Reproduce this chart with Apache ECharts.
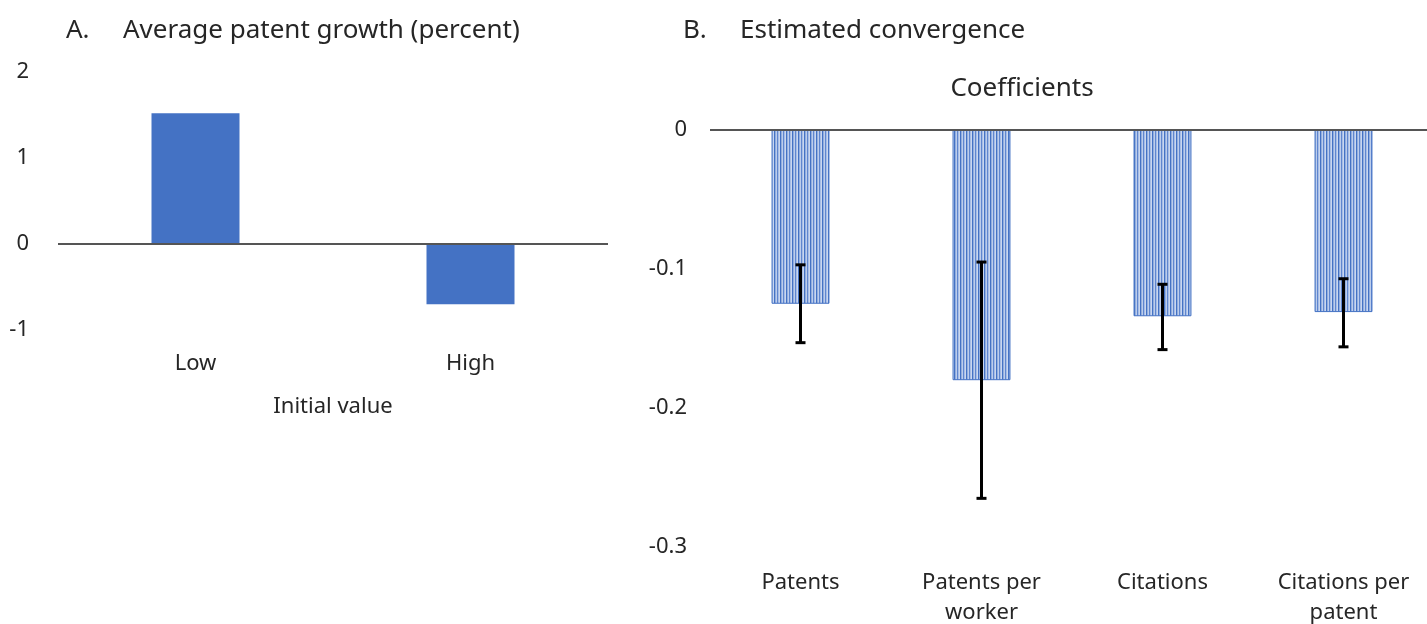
<!DOCTYPE html>
<html>
<head>
<meta charset="utf-8">
<script src="https://cdn.jsdelivr.net/npm/echarts@6/dist/echarts.min.js"></script>
<style>
  html, body { margin: 0; padding: 0; background: #fff; }
  #chart { width: 1427px; height: 624px; }
</style>
</head>
<body>
<div id="chart"></div>
<script>
// Panel A: average patent growth by initial value
const growthCategories = ['Low', 'High'];
const growthValues = [1.52, -0.70];
const growthTicks = { min: -1, max: 2, interval: 1 };

// Panel B: estimated convergence coefficients with confidence bands
const coefCategories = ['Patents', 'Patents per\nworker', 'Citations', 'Citations per\npatent'];
const coefValues = [-0.125, -0.18, -0.134, -0.131];
const coefLow = [-0.153, -0.265, -0.158, -0.156];
const coefHigh = [-0.097, -0.095, -0.111, -0.107];
const coefTicks = { min: -0.3, max: 0, interval: 0.1 };

const FONT = '"Noto Sans", "DejaVu Sans", sans-serif';
const TEXT = '#262626';
const BLUE = '#4472C4';

// vertical stripe fill for the coefficient bars
function stripePattern() {
  const c = document.createElement('canvas');
  const shades = ['#4472c4', '#93aedd', '#bccdec', '#5f86cf', '#a7bde5', '#c9d7f0'];
  c.width = shades.length;
  c.height = 8;
  const ctx = c.getContext('2d');
  shades.forEach((s, i) => { ctx.fillStyle = s; ctx.fillRect(i, 0, 1, 8); });
  return c;
}

const chart = echarts.init(document.getElementById('chart'), null, { renderer: 'canvas' });

const zeroLine = {
  silent: true,
  symbol: 'none',
  label: { show: false },
  lineStyle: { color: '#555', width: 2, type: 'solid' },
  data: [{ yAxis: 0 }]
};

const tickFmt = v => {
  const r = Math.round(v * 10) / 10;
  return r === 0 ? '0' : String(r);
};

const titleStyle = { fontFamily: FONT, fontSize: 26, fontWeight: 'normal', color: TEXT };

chart.setOption({
  animation: false,
  textStyle: { fontFamily: FONT, color: TEXT },
  title: [
    { text: 'A.', left: 66, top: 18, padding: 0, textStyle: titleStyle },
    { text: 'Average patent growth (percent)', left: 123, top: 18, padding: 0, textStyle: titleStyle },
    { text: 'B.', left: 683, top: 18, padding: 0, textStyle: titleStyle },
    { text: 'Estimated convergence', left: 740, top: 18, padding: 0, textStyle: titleStyle },
    { text: 'Coefficients', left: 1022, textAlign: 'center', top: 76, padding: 0, textStyle: titleStyle }
  ],
  grid: [
    { left: 58, top: 72, width: 550, height: 258, outerBoundsMode: 'none', containLabel: false },
    { left: 710, top: 130, width: 724, height: 417, outerBoundsMode: 'none', containLabel: false }
  ],
  xAxis: [
    {
      type: 'category', gridIndex: 0, data: growthCategories,
      axisLine: { show: false, onZero: false }, axisTick: { show: false },
      axisLabel: { fontSize: 22, color: TEXT, margin: 23, fontFamily: FONT },
      name: 'Initial value', nameLocation: 'middle', nameGap: 66,
      nameTextStyle: { fontSize: 22, color: TEXT, fontFamily: FONT }
    },
    {
      type: 'category', gridIndex: 1, data: coefCategories,
      axisLine: { show: false, onZero: false }, axisTick: { show: false },
      axisLabel: { fontSize: 22, color: TEXT, margin: 21, lineHeight: 30, fontFamily: FONT, interval: 0 }
    }
  ],
  yAxis: [
    {
      type: 'value', gridIndex: 0, min: growthTicks.min, max: growthTicks.max, interval: growthTicks.interval,
      axisLine: { show: false }, axisTick: { show: false }, splitLine: { show: false },
      axisLabel: { fontSize: 22, color: TEXT, margin: 29, fontFamily: FONT, formatter: v => String(Math.round(v)) }
    },
    {
      type: 'value', gridIndex: 1, min: coefTicks.min, max: coefTicks.max, interval: coefTicks.interval,
      axisLine: { show: false }, axisTick: { show: false }, splitLine: { show: false },
      axisLabel: { fontSize: 22, color: TEXT, margin: 23, fontFamily: FONT, formatter: tickFmt }
    }
  ],
  series: [
    {
      type: 'bar', xAxisIndex: 0, yAxisIndex: 0, data: growthValues,
      barWidth: '32%', itemStyle: { color: BLUE },
      markLine: zeroLine
    },
    {
      type: 'bar', xAxisIndex: 1, yAxisIndex: 1, data: coefValues,
      barWidth: '32%',
      itemStyle: { color: { image: stripePattern(), repeat: 'repeat' }, borderColor: BLUE, borderWidth: 1 },
      markLine: zeroLine
    },
    {
      type: 'custom', xAxisIndex: 1, yAxisIndex: 1,
      data: coefCategories.map((c, i) => [i, coefLow[i], coefHigh[i]]),
      renderItem: (params, api) => {
        const lo = api.coord([api.value(0), api.value(1)]);
        const hi = api.coord([api.value(0), api.value(2)]);
        const half = 5;
        const style = { stroke: '#000', lineWidth: 3 };
        return {
          type: 'group',
          children: [
            { type: 'line', shape: { x1: lo[0], y1: lo[1], x2: hi[0], y2: hi[1] }, style },
            { type: 'line', shape: { x1: lo[0] - half, y1: lo[1], x2: lo[0] + half, y2: lo[1] }, style },
            { type: 'line', shape: { x1: hi[0] - half, y1: hi[1], x2: hi[0] + half, y2: hi[1] }, style }
          ]
        };
      },
      z: 5
    }
  ]
});
</script>
</body>
</html>
